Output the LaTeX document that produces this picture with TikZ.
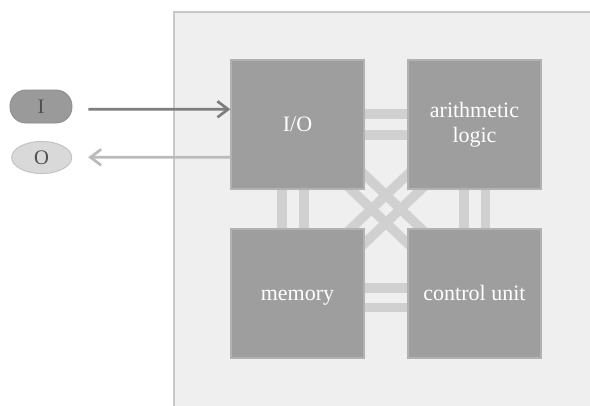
\documentclass[tikz,border=0pt]{standalone}
\usepackage{fontspec}
\setmainfont{Liberation Serif}
\usetikzlibrary{calc,arrows.meta,shapes.geometric}

\definecolor{panelfill}{HTML}{EFEFEF}
\definecolor{panelline}{HTML}{C8C8C8}
\definecolor{unitfill}{HTML}{9E9E9E}
\definecolor{unitline}{HTML}{B2B2B2}
\definecolor{busgray}{HTML}{D0D0D0}
\definecolor{ingray}{HTML}{7D7D7D}
\definecolor{outgray}{HTML}{BBBBBB}
\definecolor{portin}{HTML}{9A9A9A}
\definecolor{portout}{HTML}{D9D9D9}
\definecolor{portoutline}{HTML}{C4C4C4}
\definecolor{portlabel}{HTML}{505050}

\pgfdeclarelayer{back}
\pgfdeclarelayer{buses}
\pgfsetlayers{back,buses,main}

\tikzset{
  unit/.style={rectangle, fill=unitfill, draw=unitline, line width=1pt,
    minimum width=99.75pt, minimum height=96.75pt, inner sep=0pt,
    text=white, font=\fontsize{16.5}{19}\selectfont, align=center},
  oneline/.style={text height=11.2pt, text depth=0pt},
  bus/.style={draw=busgray, line width=7.1pt},
  inport/.style={rectangle, rounded corners=12pt, fill=portin, draw=portin!90!black,
    line width=0.6pt, minimum width=46.5pt, minimum height=24.75pt,
    text=portlabel, font=\fontsize{15.5}{18}\selectfont},
  outport/.style={ellipse, fill=portout, draw=portoutline, line width=0.8pt,
    minimum width=45pt, minimum height=24pt, inner sep=0pt,
    text=portlabel, font=\fontsize{15.5}{18}\selectfont},
  inflow/.style={draw=ingray, line width=2pt, -{Straight Barb[length=8pt,width=12pt]}},
  outflow/.style={draw=outgray, line width=2pt, -{Straight Barb[length=8pt,width=12pt]}},
}

\begin{document}
\begin{tikzpicture}[x=0.75pt, y=-0.75pt]
\useasboundingbox (0,0) rectangle (590,405);

% processor units
\node[unit, oneline] (io)  at (297.5,124.5) {I/O};
\node[unit] (alu) at (474.5,124.5) {arithmetic\\logic};
\node[unit, oneline] (mem) at (297.5,293.5) {memory};
\node[unit, oneline] (cu)  at (474.5,293.5) {control unit};

% external ports
\node[inport]  (pin)  at (41,106.5) {I};
\node[outport] (pout) at (41.7,157.5) {O};

% processor panel
\begin{pgfonlayer}{back}
  \fill[panelfill] (174,12) rectangle (592,407);
  \draw[panelline, line width=1.6pt] (174,407) -- (174,12) -- (592,12);
\end{pgfonlayer}

% double buses between the units
\begin{pgfonlayer}{buses}
  \draw[bus] ($(io.center)+(0,-10.7)$) -- ($(alu.center)+(0,-10.7)$);
  \draw[bus] ($(io.center)+(0,10.5)$)  -- ($(alu.center)+(0,10.5)$);
  \draw[bus] ($(mem.center)+(0,-5.5)$) -- ($(cu.center)+(0,-5.5)$);
  \draw[bus] ($(mem.center)+(0,14)$)   -- ($(cu.center)+(0,14)$);
  \draw[bus] ($(io.center)+(-15.5,0)$) -- ($(mem.center)+(-15.5,0)$);
  \draw[bus] ($(io.center)+(6.5,0)$)   -- ($(mem.center)+(6.5,0)$);
  \draw[bus] ($(alu.center)+(-10.5,0)$) -- ($(cu.center)+(-10.5,0)$);
  \draw[bus] ($(alu.center)+(11,0)$)    -- ($(cu.center)+(11,0)$);
  \draw[bus] ($(io.center)+(7.1,-7.1)$) -- ($(cu.center)+(7.1,-7.1)$);
  \draw[bus] ($(io.center)+(-7.1,7.1)$) -- ($(cu.center)+(-7.1,7.1)$);
  \draw[bus] ($(alu.center)+(7.1,7.1)$)   -- ($(mem.center)+(7.1,7.1)$);
  \draw[bus] ($(alu.center)+(-7.1,-7.1)$) -- ($(mem.center)+(-7.1,-7.1)$);
\end{pgfonlayer}

% input and output flows
\draw[inflow]  ($(pin.east)+(16,2.8)$) -- ($(io.west)+(0,-15.2)$);
\draw[outflow] ($(io.west)+(0,32.8)$) -- ($(pout.east)+(16,-0.2)$);
\end{tikzpicture}
\end{document}
